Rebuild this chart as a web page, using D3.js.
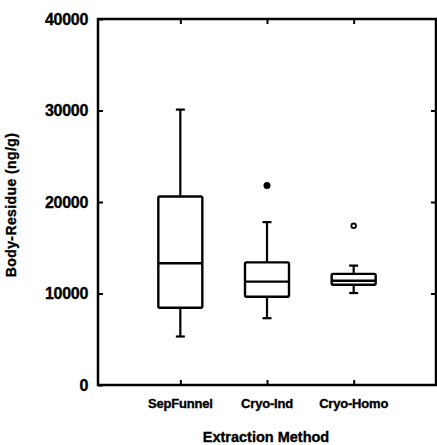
<!DOCTYPE html>
<html>
<head>
<meta charset="utf-8">
<script src="https://cdn.jsdelivr.net/npm/d3@7"></script>
<style>
body { margin: 0; background: #fff; }
text { font-family: "Liberation Sans", Arial, sans-serif; font-weight: bold; fill: #000; stroke: #000; stroke-width: 0.35px; }
</style>
</head>
<body>
<div id="chart"></div>
<script>
// values
var methods = ["SepFunnel", "Cryo-Ind", "Cryo-Homo"];
var whiskerLow = [5300, 7300, 10050];
var q1 = [8450, 9650, 10950];
var median = [13300, 11300, 11400];
var q3 = [20600, 13400, 12150];
var whiskerHigh = [30100, 17800, 13050];
var outliers = [[], [21800], [17400]];
var outlierFilled = [false, true, false];
var yTicks = [0, 10000, 20000, 30000, 40000];

var W = 437, H = 445;
var pLeft = 98, pRight = 436, pTop = 19, pBottom = 385;

var svg = d3.select("#chart").append("svg")
    .attr("width", W)
    .attr("height", H);

var x = d3.scalePoint().domain(methods).range([pLeft, pRight]).padding(0.95);
var y = d3.scaleLinear().domain([0, 40000]).range([pBottom, pTop]);

// axes, ticks drawn inward
svg.append("g")
    .attr("transform", "translate(" + pLeft + ",0)")
    .call(d3.axisRight(y).tickValues(yTicks).tickSize(5).tickFormat(""))
    .call(function(g){ g.select(".domain").remove(); })
    .selectAll("line").attr("stroke-width", 2);

svg.append("g")
    .attr("transform", "translate(" + pRight + ",0)")
    .call(d3.axisLeft(y).tickValues(yTicks.slice(1, 4)).tickSize(5).tickFormat(""))
    .call(function(g){ g.select(".domain").remove(); })
    .selectAll("line").attr("stroke-width", 2);

svg.append("g")
    .attr("transform", "translate(0," + pBottom + ")")
    .call(d3.axisTop(x).tickSize(5).tickFormat(""))
    .call(function(g){ g.select(".domain").remove(); })
    .selectAll("line").attr("stroke-width", 2);

svg.append("g")
    .attr("transform", "translate(0," + pTop + ")")
    .call(d3.axisBottom(x).tickSize(5).tickFormat(""))
    .call(function(g){ g.select(".domain").remove(); })
    .selectAll("line").attr("stroke-width", 2);

// frame
svg.append("rect")
    .attr("x", pLeft).attr("y", pTop)
    .attr("width", pRight - pLeft).attr("height", pBottom - pTop)
    .attr("fill", "none").attr("stroke", "#000").attr("stroke-width", 2.5);

// tick labels
svg.selectAll(".ylab").data(yTicks).enter().append("text")
    .attr("class", "ylab")
    .attr("x", pLeft - 10)
    .attr("y", function(d){ return y(d); })
    .attr("dy", "0.36em")
    .attr("text-anchor", "end")
    .style("font-size", "16px")
    .style("letter-spacing", "-0.3px")
    .text(function(d){ return d; });

svg.selectAll(".xlab").data(methods).enter().append("text")
    .attr("class", "xlab")
    .attr("x", function(d){ return x(d); })
    .attr("y", pBottom + 23)
    .attr("text-anchor", "middle")
    .style("font-size", "13px")
    .style("letter-spacing", "-0.2px")
    .text(function(d){ return d; });

svg.append("text")
    .attr("x", 266).attr("y", 442)
    .attr("text-anchor", "middle")
    .style("font-size", "14.5px")
    .text("Extraction Method");

svg.append("text")
    .attr("transform", "translate(16,205) rotate(-90)")
    .attr("text-anchor", "middle")
    .style("font-size", "14px")
    .style("letter-spacing", "0.4px")
    .text("Body-Residue (ng/g)");

// boxes
var bw = 44, cap = 9;
var boxes = svg.selectAll(".box").data(methods).enter().append("g").attr("class", "box");

boxes.append("line")
    .attr("x1", function(d){ return x(d); }).attr("x2", function(d){ return x(d); })
    .attr("y1", function(d, i){ return y(q3[i]); })
    .attr("y2", function(d, i){ return y(whiskerHigh[i]); })
    .attr("stroke", "#000").attr("stroke-width", 2.2);

boxes.append("line")
    .attr("x1", function(d){ return x(d); }).attr("x2", function(d){ return x(d); })
    .attr("y1", function(d, i){ return y(q1[i]); })
    .attr("y2", function(d, i){ return y(whiskerLow[i]); })
    .attr("stroke", "#000").attr("stroke-width", 2.2);

boxes.append("line")
    .attr("x1", function(d){ return x(d) - cap / 2; }).attr("x2", function(d){ return x(d) + cap / 2; })
    .attr("y1", function(d, i){ return y(whiskerHigh[i]); })
    .attr("y2", function(d, i){ return y(whiskerHigh[i]); })
    .attr("stroke", "#000").attr("stroke-width", 2.2);

boxes.append("line")
    .attr("x1", function(d){ return x(d) - cap / 2; }).attr("x2", function(d){ return x(d) + cap / 2; })
    .attr("y1", function(d, i){ return y(whiskerLow[i]); })
    .attr("y2", function(d, i){ return y(whiskerLow[i]); })
    .attr("stroke", "#000").attr("stroke-width", 2.2);

boxes.append("rect")
    .attr("x", function(d){ return x(d) - bw / 2; })
    .attr("y", function(d, i){ return y(q3[i]); })
    .attr("width", bw)
    .attr("height", function(d, i){ return y(q1[i]) - y(q3[i]); })
    .attr("rx", 1.5)
    .attr("fill", "#fff").attr("stroke", "#000").attr("stroke-width", 2.4);

boxes.append("line")
    .attr("x1", function(d){ return x(d) - bw / 2; }).attr("x2", function(d){ return x(d) + bw / 2; })
    .attr("y1", function(d, i){ return y(median[i]); })
    .attr("y2", function(d, i){ return y(median[i]); })
    .attr("stroke", "#000").attr("stroke-width", 2.4);

boxes.each(function(d, i){
    d3.select(this).selectAll("circle").data(outliers[i]).enter().append("circle")
        .attr("cx", x(d))
        .attr("cy", function(v){ return y(v); })
        .attr("r", outlierFilled[i] ? 2.6 : 2.3)
        .attr("fill", outlierFilled[i] ? "#000" : "#fff")
        .attr("stroke", "#000").attr("stroke-width", 1.8);
});
</script>
</body>
</html>
